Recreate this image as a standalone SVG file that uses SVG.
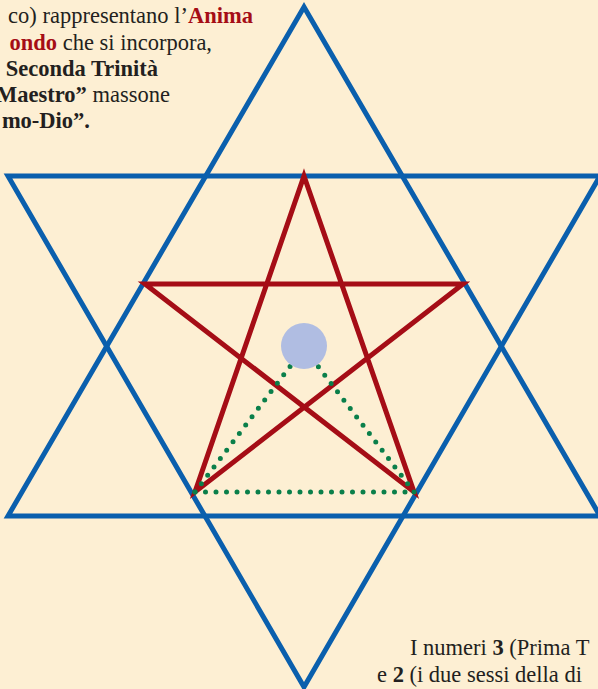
<svg xmlns="http://www.w3.org/2000/svg" width="598" height="689" viewBox="0 0 598 689">
<style>
.txt{font-family:"Liberation Serif","Times New Roman",serif;font-size:22.5px;fill:#231f20}
.b{font-weight:bold}
.r{fill:#a50d16}
.blue{fill:none;stroke:#0a5fad;stroke-width:5;stroke-linejoin:miter}
.red{fill:none;stroke:#a50d16;stroke-width:5;stroke-linejoin:miter}
.dots{fill:none;stroke:#0a7f4a;stroke-width:5;stroke-linecap:round;stroke-dasharray:0 10.5}
</style>
<rect width="598" height="689" fill="#fdefd3"/>
<g id="connectors">
  <g id="hexagram">
    <polygon class="blue" points="304,7 8,516 600,516"/>
    <polygon class="blue" points="8,176 600,176 304,687"/>
  </g>
  <g id="pentagram">
    <polygon class="red" points="304,176 414,492 145,284 463,284 195,492"/>
  </g>
  <g id="triangle">
    <path class="dots" d="M195,492 L414,492"/>
    <path class="dots" d="M195,492 L304,348"/>
    <path class="dots" d="M414,492 L304,348"/>
  </g>
</g>
<g id="circle">
  <circle cx="304" cy="346" r="23" fill="#b0bde2"/>
</g>
<g id="text-top">
  <text class="txt" x="253" y="23" text-anchor="end">co) rappresentano l’<tspan class="b r">Anima</tspan></text>
  <text class="txt" x="212" y="50" text-anchor="end"><tspan class="b r">ondo</tspan> che si incorpora,</text>
  <text class="txt b" x="158" y="76" text-anchor="end">Seconda Trinità</text>
  <text class="txt" x="170" y="102" text-anchor="end"><tspan class="b">Maestro”</tspan> massone</text>
  <text class="txt b" x="90" y="128" text-anchor="end">mo-Dio”.</text>
</g>
<g id="text-bottom">
  <text class="txt" x="410" y="655">I numeri <tspan class="b">3</tspan> (Prima T</text>
  <text class="txt" x="377" y="682">e <tspan class="b">2</tspan> (i due sessi della di</text>
</g>
</svg>
